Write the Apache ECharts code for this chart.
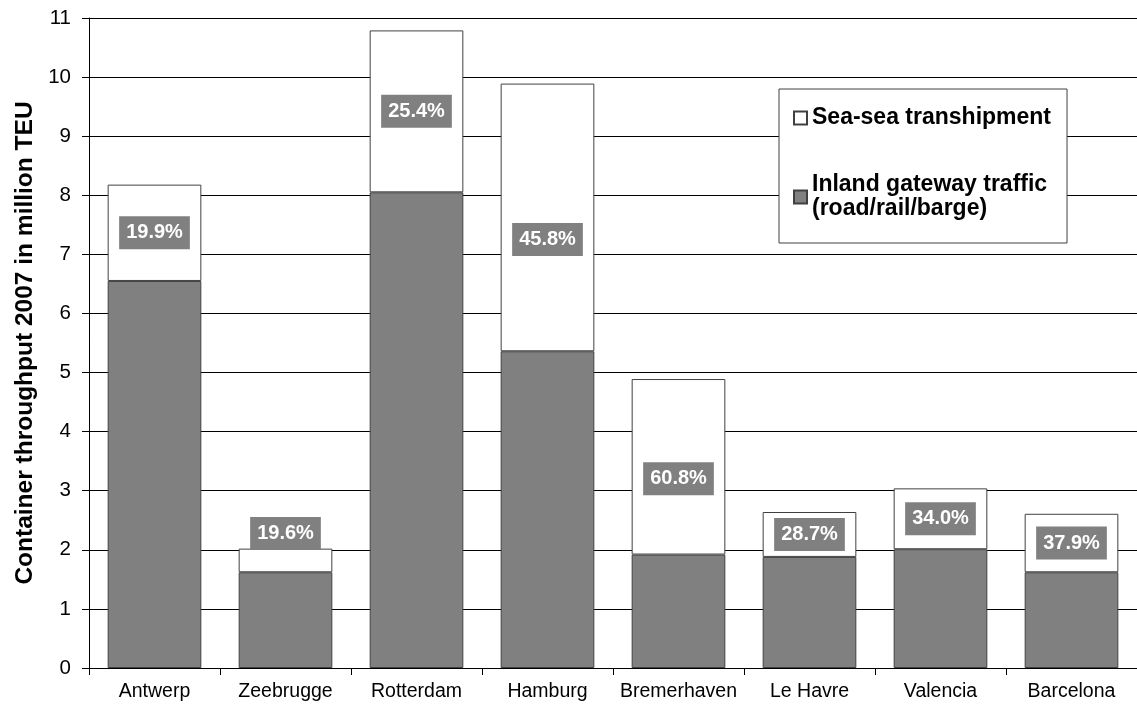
<!DOCTYPE html>
<html>
<head>
<meta charset="utf-8">
<script src="https://cdn.jsdelivr.net/npm/echarts@6/dist/echarts.min.js"></script>
<style>
  html, body { margin: 0; padding: 0; background: #fff; }
  #chart { width: 1137px; height: 709px; }
</style>
</head>
<body>
<div id="chart"></div>
<script>
// container throughput 2007, million TEU
var ports = ['Antwerp', 'Zeebrugge', 'Rotterdam', 'Hamburg', 'Bremerhaven', 'Le Havre', 'Valencia', 'Barcelona'];
var inlandTraffic = [6.55, 1.62, 8.05, 5.36, 1.92, 1.88, 2.01, 1.62];
var seaTranship = [1.63, 0.40, 2.74, 4.53, 2.97, 0.76, 1.03, 0.99];
var seaShareLabels = ['19.9%', '19.6%', '25.4%', '45.8%', '60.8%', '28.7%', '34.0%', '37.9%'];
var yTicks = { min: 0, max: 11, step: 1 };

var FONT = '"Liberation Sans", Arial, sans-serif';

// some labels sit off the middle of the white block
var labelShift = { Zeebrugge: -27, Hamburg: 22, Bremerhaven: 12 };

var seaData = seaTranship.map(function (v, i) {
  return {
    value: v,
    label: { offset: [0, labelShift[ports[i]] || 0] }
  };
});

var chart = echarts.init(document.getElementById('chart'));

var option = {
  animation: false,
  backgroundColor: '#fff',
  grid: { left: 89, top: 18, width: 1053, height: 650 },
  legend: {
    orient: 'vertical',
    left: 779,
    top: 89,
    padding: [17, 16, 10, 14],
    itemGap: 31,
    itemWidth: 13,
    itemHeight: 13,
    icon: 'rect',
    backgroundColor: '#fff',
    borderColor: '#404040',
    borderWidth: 1,
    textStyle: { fontFamily: FONT, fontSize: 23, fontWeight: 'bold', color: '#000', lineHeight: 24 },
    data: [
      { name: 'Sea-sea transhipment' },
      { name: 'Inland gateway traffic\n(road/rail/barge)', textStyle: { padding: [24, 0, 0, 0] } }
    ]
  },
  xAxis: {
    type: 'category',
    data: ports,
    axisLine: { lineStyle: { color: '#000', width: 1 } },
    axisTick: { show: true, length: 7, lineStyle: { color: '#000' } },
    axisLabel: { interval: 0, color: '#000', fontFamily: FONT, fontSize: 19.5, margin: 14 }
  },
  yAxis: {
    type: 'value',
    min: yTicks.min,
    max: yTicks.max,
    interval: yTicks.step,
    name: 'Container throughput 2007 in million TEU',
    nameLocation: 'middle',
    nameGap: 50,
    nameTextStyle: { fontFamily: FONT, fontSize: 24.5, fontWeight: 'bold', color: '#000' },
    axisLine: { show: true, lineStyle: { color: '#000', width: 1 } },
    axisTick: { show: true, length: 7, lineStyle: { color: '#000' } },
    axisLabel: { color: '#000', fontFamily: FONT, fontSize: 20.5, margin: 18 },
    splitLine: { lineStyle: { color: '#000', width: 1 } }
  },
  series: [
    {
      name: 'Inland gateway traffic\n(road/rail/barge)',
      type: 'bar',
      stack: 'total',
      barCategoryGap: '28.5%',
      data: inlandTraffic,
      itemStyle: { color: '#808080', borderColor: '#404040', borderWidth: 1 }
    },
    {
      name: 'Sea-sea transhipment',
      type: 'bar',
      stack: 'total',
      barCategoryGap: '28.5%',
      data: seaData,
      itemStyle: { color: '#fff', borderColor: '#404040', borderWidth: 1 },
      label: {
        show: true,
        position: 'inside',
        formatter: function (p) { return seaShareLabels[p.dataIndex]; },
        color: '#fff',
        fontFamily: FONT,
        fontSize: 20,
        fontWeight: 'bold',
        backgroundColor: '#808080',
        padding: [7, 7, 6, 7]
      }
    }
  ]
};

chart.setOption(option);
</script>
</body>
</html>
